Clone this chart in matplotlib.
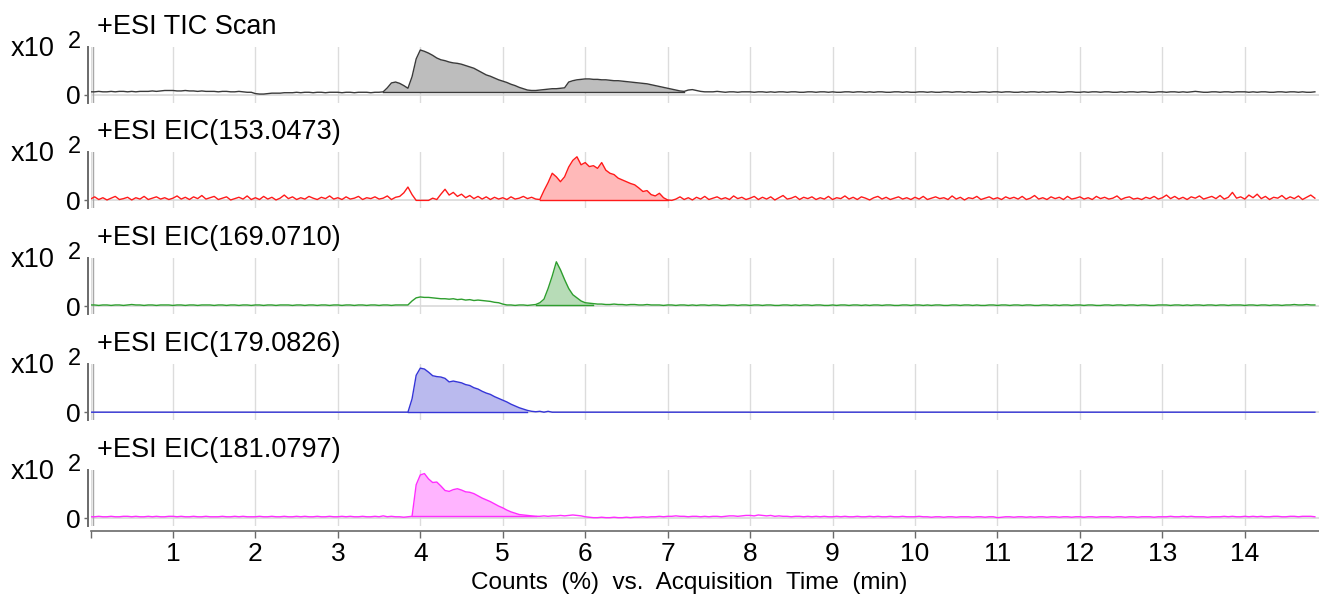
import numpy as np
import matplotlib
matplotlib.use("Agg")
import matplotlib.pyplot as plt

plt.rcParams['font.family'] = ['Liberation Sans', 'DejaVu Sans']

# acquisition times (min), one scan every 0.05 min
scan_times = np.round(np.arange(0, 14.9, 0.05), 2)

# counts in % of each trace's maximum, one row per minute
tic_counts = [
    6, 6, 7, 6, 6, 7, 6, 7, 7, 6, 7, 6, 7, 7, 7, 8, 7, 8, 9, 9,
    9, 8, 8, 9, 8, 8, 7, 8, 7, 7, 7, 6, 7, 7, 6, 6, 7, 6, 5, 5,
    2, 1, 1, 2, 3, 3, 3, 4, 4, 4, 5, 4, 5, 5, 4, 5, 5, 4, 5, 5,
    5, 4, 5, 5, 4, 5, 5, 5, 4, 5, 5, 6, 15, 26, 28, 25, 20, 14, 40, 80,
    100, 97, 93, 88, 82, 78, 76, 73, 71, 70, 68, 65, 62, 59, 54, 49, 44, 41, 37, 33,
    30, 27, 23, 20, 16, 13, 10, 9, 9, 10, 11, 12, 13, 13, 14, 15, 28, 31, 33, 34,
    35, 35, 34, 34, 33, 33, 32, 31, 31, 30, 29, 28, 27, 26, 25, 24, 22, 20, 18, 16,
    14, 12, 10, 8, 7, 10, 11, 9, 7, 6, 6, 6, 7, 6, 5, 6, 6, 5, 6, 6,
    6, 5, 6, 6, 5, 6, 5, 6, 6, 5, 6, 6, 5, 5, 6, 6, 5, 6, 6, 5,
    6, 5, 5, 6, 6, 5, 6, 6, 5, 6, 5, 6, 6, 5, 5, 6, 6, 5, 6, 5,
    5, 6, 6, 5, 6, 5, 5, 6, 6, 5, 6, 6, 5, 6, 5, 5, 6, 6, 5, 6,
    6, 5, 6, 6, 5, 5, 6, 5, 6, 6, 5, 6, 5, 6, 6, 5, 5, 6, 6, 5,
    5, 6, 5, 6, 6, 5, 6, 6, 5, 5, 6, 5, 6, 6, 5, 6, 6, 5, 5, 6,
    6, 5, 6, 6, 5, 6, 5, 6, 7, 6, 5, 5, 6, 6, 5, 6, 6, 5, 6, 6,
    6, 5, 6, 5, 6, 6, 5, 5, 6, 6, 5, 6, 6, 5, 6, 5, 5, 6,
]

eic153_counts = [
    3, 8, 2, 6, 1, 5, 9, 2, 4, 7, 1, 6, 3, 9, 2, 5, 8, 3, 6, 2,
    5, 10, 3, 7, 2, 8, 4, 11, 3, 6, 9, 2, 5, 8, 1, 4, 7, 3, 10, 2,
    6, 2, 9, 3, 7, 1, 5, 12, 4, 8, 2, 6, 3, 9, 5, 2, 7, 4, 10, 3,
    6, 2, 8, 3, 5, 9, 2, 6, 4, 8, 3, 5, 10, 2, 7, 9, 17, 30, 13, 0,
    0, 0, 0, 5, 2, 14, 25, 12, 18, 9, 14, 6, 11, 4, 9, 3, 8, 2, 7, 3,
    6, 2, 8, 3, 5, 9, 4, 7, 3, 2, 22, 40, 61, 53, 42, 53, 75, 90, 98, 80,
    85, 76, 78, 72, 85, 68, 61, 58, 50, 46, 42, 38, 35, 28, 20, 22, 13, 10, 16, 6,
    1, 0, 3, 8, 2, 6, 1, 7, 3, 9, 2, 5, 8, 3, 6, 2, 10, 4, 7, 2,
    5, 9, 2, 7, 3, 8, 1, 6, 11, 3, 5, 9, 2, 7, 4, 8, 2, 6, 3, 9,
    2, 6, 4, 10, 3, 7, 2, 8, 5, 1, 6, 9, 3, 7, 2, 5, 8, 3, 6, 2,
    7, 3, 9, 2, 5, 8, 4, 6, 2, 10, 3, 7, 1, 6, 4, 9, 2, 5, 8, 3,
    6, 2, 8, 4, 7, 3, 9, 2, 5, 11, 3, 6, 2, 8, 4, 7, 2, 9, 3, 5,
    8, 3, 6, 2, 9, 4, 7, 3, 5, 10, 2, 6, 8, 3, 5, 2, 7, 4, 9, 3,
    6, 12, 4, 9, 3, 7, 2, 8, 5, 10, 3, 6, 9, 4, 11, 3, 7, 18, 5, 8,
    3, 12, 6, 14, 4, 9, 2, 7, 5, 11, 3, 8, 4, 10, 2, 7, 12, 5,
]

eic169_counts = [
    3, 3, 2, 3, 3, 2, 3, 3, 2, 3, 4, 3, 3, 2, 3, 3, 2, 3, 3, 3,
    2, 3, 3, 2, 3, 3, 2, 3, 3, 3, 2, 3, 3, 2, 3, 3, 2, 3, 3, 2,
    3, 3, 2, 3, 3, 2, 3, 3, 3, 2, 3, 3, 2, 3, 3, 2, 3, 3, 2, 3,
    3, 2, 3, 3, 2, 3, 3, 2, 3, 3, 2, 3, 3, 2, 3, 3, 3, 3, 12, 19,
    21, 20, 20, 19, 18, 17, 17, 16, 17, 15, 16, 14, 15, 13, 14, 13, 12, 11, 9, 8,
    5, 3, 3, 2, 3, 3, 2, 3, 4, 8, 16, 40, 68, 100, 82, 60, 40, 26, 19, 12,
    8, 7, 6, 5, 5, 4, 4, 5, 4, 4, 3, 4, 4, 3, 3, 4, 3, 3, 3, 2,
    3, 3, 2, 3, 3, 2, 3, 2, 3, 3, 2, 3, 3, 2, 2, 3, 3, 2, 3, 3,
    2, 3, 3, 2, 3, 3, 2, 2, 3, 3, 2, 3, 2, 3, 3, 2, 3, 3, 2, 2,
    3, 2, 3, 3, 2, 3, 3, 2, 3, 2, 3, 3, 2, 3, 3, 2, 2, 3, 3, 2,
    3, 3, 2, 3, 2, 3, 3, 2, 2, 3, 3, 2, 3, 3, 2, 3, 2, 2, 3, 3,
    2, 3, 3, 2, 3, 3, 2, 3, 3, 2, 2, 3, 3, 2, 3, 2, 3, 3, 2, 3,
    3, 2, 3, 3, 2, 2, 3, 3, 2, 3, 3, 2, 3, 3, 2, 3, 3, 2, 2, 3,
    3, 3, 2, 3, 3, 2, 3, 2, 3, 3, 2, 3, 3, 2, 3, 3, 2, 3, 3, 3,
    2, 3, 3, 2, 3, 3, 2, 3, 3, 2, 3, 3, 4, 3, 3, 4, 3, 3,
]

eic179_counts = [
    0, 0, 0, 0, 0, 0, 0, 0, 0, 0, 0, 0, 0, 0, 0, 0, 0, 0, 0, 0,
    0, 0, 0, 0, 0, 0, 0, 0, 0, 0, 0, 0, 0, 0, 0, 0, 0, 0, 0, 0,
    0, 0, 0, 0, 0, 0, 0, 0, 0, 0, 0, 0, 0, 0, 0, 0, 0, 0, 0, 0,
    0, 0, 0, 0, 0, 0, 0, 0, 0, 0, 0, 0, 0, 0, 0, 0, 0, 0, 30, 83,
    99, 97, 90, 82, 80, 79, 76, 68, 70, 68, 66, 62, 60, 55, 52, 47, 43, 40, 35, 31,
    27, 23, 18, 14, 10, 7, 4, 2, 1, 2, 0, 2, 0, 0, 0, 0, 0, 0, 0, 0,
    0, 0, 0, 0, 0, 0, 0, 0, 0, 0, 0, 0, 0, 0, 0, 0, 0, 0, 0, 0,
    0, 0, 0, 0, 0, 0, 0, 0, 0, 0, 0, 0, 0, 0, 0, 0, 0, 0, 0, 0,
    0, 0, 0, 0, 0, 0, 0, 0, 0, 0, 0, 0, 0, 0, 0, 0, 0, 0, 0, 0,
    0, 0, 0, 0, 0, 0, 0, 0, 0, 0, 0, 0, 0, 0, 0, 0, 0, 0, 0, 0,
    0, 0, 0, 0, 0, 0, 0, 0, 0, 0, 0, 0, 0, 0, 0, 0, 0, 0, 0, 0,
    0, 0, 0, 0, 0, 0, 0, 0, 0, 0, 0, 0, 0, 0, 0, 0, 0, 0, 0, 0,
    0, 0, 0, 0, 0, 0, 0, 0, 0, 0, 0, 0, 0, 0, 0, 0, 0, 0, 0, 0,
    0, 0, 0, 0, 0, 0, 0, 0, 0, 0, 0, 0, 0, 0, 0, 0, 0, 0, 0, 0,
    0, 0, 0, 0, 0, 0, 0, 0, 0, 0, 0, 0, 0, 0, 0, 0, 0, 0,
]

eic181_counts = [
    3, 3, 4, 3, 3, 4, 3, 3, 4, 4, 3, 4, 3, 3, 4, 3, 4, 3, 3, 4,
    4, 3, 4, 3, 3, 4, 3, 3, 4, 3, 3, 3, 4, 3, 3, 4, 3, 4, 3, 3,
    3, 4, 3, 3, 4, 3, 3, 4, 3, 3, 4, 3, 4, 3, 3, 4, 3, 3, 4, 3,
    3, 4, 3, 4, 3, 3, 4, 3, 3, 4, 3, 5, 3, 4, 3, 3, 2, 3, 4, 75,
    97, 100, 88, 80, 81, 72, 62, 60, 64, 66, 63, 59, 58, 55, 50, 45, 41, 37, 32, 27,
    23, 18, 14, 11, 8, 7, 6, 5, 4, 4, 5, 4, 5, 5, 6, 5, 6, 7, 6, 5,
    3, 2, 1, 1, 2, 1, 1, 2, 1, 1, 2, 1, 2, 2, 3, 2, 3, 3, 4, 3,
    4, 4, 5, 4, 4, 3, 4, 4, 3, 4, 3, 4, 4, 3, 4, 5, 5, 4, 5, 6,
    6, 5, 7, 6, 5, 6, 4, 5, 4, 4, 3, 4, 4, 3, 4, 3, 4, 3, 4, 3,
    3, 4, 3, 4, 3, 3, 4, 3, 3, 4, 3, 4, 3, 3, 4, 3, 3, 4, 3, 3,
    3, 4, 3, 3, 2, 3, 3, 2, 3, 3, 2, 3, 3, 3, 2, 3, 3, 2, 3, 3,
    1, 2, 3, 3, 2, 3, 3, 2, 3, 2, 3, 3, 2, 3, 3, 2, 3, 3, 2, 3,
    3, 2, 3, 3, 2, 3, 3, 3, 2, 3, 3, 2, 3, 3, 2, 3, 3, 3, 2, 3,
    3, 3, 4, 3, 3, 4, 3, 4, 3, 3, 3, 2, 3, 3, 3, 4, 3, 4, 3, 3,
    4, 3, 4, 3, 4, 3, 3, 4, 4, 3, 3, 4, 4, 3, 4, 4, 4, 3,
]

trace_titles = ["+ESI TIC Scan", "+ESI EIC(153.0473)", "+ESI EIC(169.0710)",
                "+ESI EIC(179.0826)", "+ESI EIC(181.0797)"]
traces = [tic_counts, eic153_counts, eic169_counts, eic179_counts, eic181_counts]
# integrated peak: start, end, baseline level
peak_windows = [(3.55, 7.20, 5), (5.45, 7.00, 0), (5.40, 6.10, 3),
                (3.85, 5.30, 0), (3.90, 5.40, 4)]
line_colors = ['#3a3a3a', '#ff1a1a', '#2e9e2e', '#3535d8', '#ff2dff']
fill_colors = ['#bdbdbd', '#ffb9b9', '#b7dcb7', '#babaee', '#ffb4ff']
tick_minutes = list(range(15))

W, H = 1319, 599
fig = plt.figure(figsize=(W / 100, H / 100), dpi=100)

x0_px = 90.5
px_per_pct = 0.445
zero_px = [94.5, 200.4, 306.3, 412.2, 518.1]

for i, (counts, title) in enumerate(zip(traces, trace_titles)):
    z = zero_px[i]
    ax = fig.add_axes([x0_px / W, 1 - (z + 8) / H, 1 - x0_px / W, 56 / H])
    ax.set_xlim(0, 14.9)
    ax.set_ylim(-8 / px_per_pct, 48 / px_per_pct)
    y = np.array(counts, dtype=float)
    t0, t1, base = peak_windows[i]
    m = (scan_times >= t0 - 1e-9) & (scan_times <= t1 + 1e-9)
    ax.fill_between(scan_times, y, base, where=m, color=fill_colors[i], lw=0, zorder=2)
    ax.plot([t0, t1], [base, base], color=line_colors[i], lw=1.0, zorder=3)
    ax.plot(scan_times, y, color=line_colors[i], lw=1.0, zorder=4)

    ax.axhline(0, color='#d9d9d9', lw=1.2, zorder=1)
    ax.axvline(0.03, color='#a8a8a8', lw=1.0, zorder=1)
    ax.set_xticks(tick_minutes)
    ax.grid(axis='x', color='#dcdcdc', lw=1.0, zorder=0)
    ax.set_axisbelow(True)

    for s in ['top', 'right', 'bottom']:
        ax.spines[s].set_visible(False)
    ax.spines['left'].set_position(('outward', 2))
    ax.spines['left'].set_color('#6a6a6a')
    ax.spines['left'].set_linewidth(1.4)
    ax.set_yticks([0])
    ax.set_yticklabels(['0'])
    ax.tick_params(axis='y', length=3, width=1, color='#6a6a6a', pad=2, labelsize=19)

    if i == len(traces) - 1:
        ax.spines['bottom'].set_visible(True)
        ax.spines['bottom'].set_position(('outward', 3.2))
        ax.spines['bottom'].set_color('#6a6a6a')
        ax.spines['bottom'].set_linewidth(1.2)
        ax.set_xticklabels([''] + [str(v) for v in tick_minutes[1:]])
        ax.tick_params(axis='x', length=5, width=1, color='#6a6a6a', pad=3, labelsize=19)
    else:
        ax.tick_params(axis='x', length=0, labelbottom=False)

    fig.text(97 / W, 1 - (z - 61) / H, title, fontsize=19.5, va='baseline', ha='left')
    fig.text(11 / W, 1 - (z - 39) / H, "x10", fontsize=19.5, va='baseline', ha='left')
    fig.text(68 / W, 1 - (z - 47) / H, "2", fontsize=17, va='baseline', ha='left')

fig.text(689 / W, 1 - 583 / H, "Counts  (%)  vs.  Acquisition  Time  (min)",
         fontsize=17.5, ha='center', va='center')

fig.savefig("out.png", dpi=100)
